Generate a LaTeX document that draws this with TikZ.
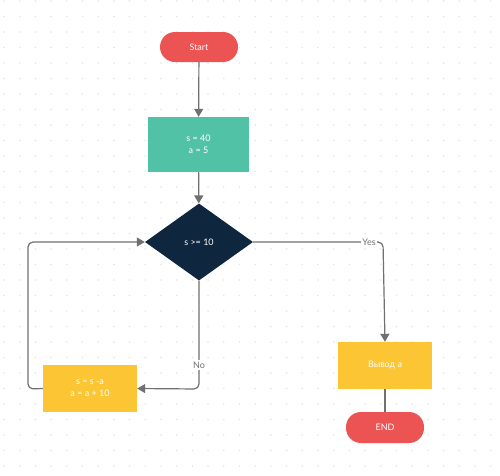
\documentclass[tikz,border=0pt]{standalone}
\usepackage{fontspec}
\setmainfont{Lato}
\usetikzlibrary{arrows.meta,shapes.geometric}
\definecolor{cred}{RGB}{236,84,84}
\definecolor{cteal}{RGB}{82,194,167}
\definecolor{cnavy}{RGB}{14,38,62}
\definecolor{cyel}{RGB}{252,197,52}
\definecolor{cline}{RGB}{112,112,112}
\definecolor{cdot}{RGB}{230,230,232}
\tikzset{
  pill/.style={draw=none,fill=cred,rectangle,rounded corners=15pt,minimum width=78pt,minimum height=30pt,text=white,font=\fontsize{9}{10}\selectfont},
  procbox/.style={draw=none,rectangle,minimum width=#1,text=white,font=\fontsize{9}{12}\selectfont,align=center},
  conn/.style={draw=cline,line width=1.2pt,rounded corners=5pt},
  arr/.style={conn,-{Triangle[length=8pt,width=9pt]}},
  lbl/.style={fill=white,text=cline,font=\fontsize{9}{10}\selectfont,inner sep=1.5pt}
}
\begin{document}
\begin{tikzpicture}[x=1pt,y=-1pt]
\useasboundingbox (0,0) rectangle (500,475);
\fill[white] (0,0) rectangle (500,475);
\foreach \i in {0,...,31}{\foreach \j in {0,...,30}{\fill[cdot] (4+\i*15.7,1+\j*15.5) circle (0.9pt);}}
\node[pill] (start) at (199,47) {Start};
\node[procbox=101pt,fill=cteal,minimum height=55pt] (init) at (198.5,144.5) {s = 40\\a = 5};
\node[diamond,fill=cnavy,text=white,minimum width=108pt,minimum height=77pt,inner sep=0pt,font=\fontsize{9}{10}\selectfont] (cond) at (199,242) {s >= 10};
\node[procbox=94pt,fill=cyel,minimum height=47pt] (out) at (385,365.5) {Вывод a};
\node[pill,minimum width=78pt,minimum height=31pt] (end) at (385,427.5) {END};
\node[procbox=94pt,fill=cyel,minimum height=47pt] (loop) at (90,388.5) {s = s -a\\a = a + 10};
\coordinate (c1) at (383,242);
\coordinate (c2) at (199,389);
\coordinate (c3) at (28,389);
\coordinate (c4) at (28,242);
\draw[arr] (start) -- (init);
\draw[arr] (init) -- (cond);
\draw[arr] (cond.east) -- (c1) -- (out.north);
\draw[conn] (out) -- (end);
\draw[arr] (cond.south) -- (c2) -- (loop.east);
\draw[arr] (loop.west) -- (c3) -- (c4) -- (cond.west);
\node[lbl] at (369,242) {Yes};
\node[lbl] at (199,365) {No};
\end{tikzpicture}
\end{document}
